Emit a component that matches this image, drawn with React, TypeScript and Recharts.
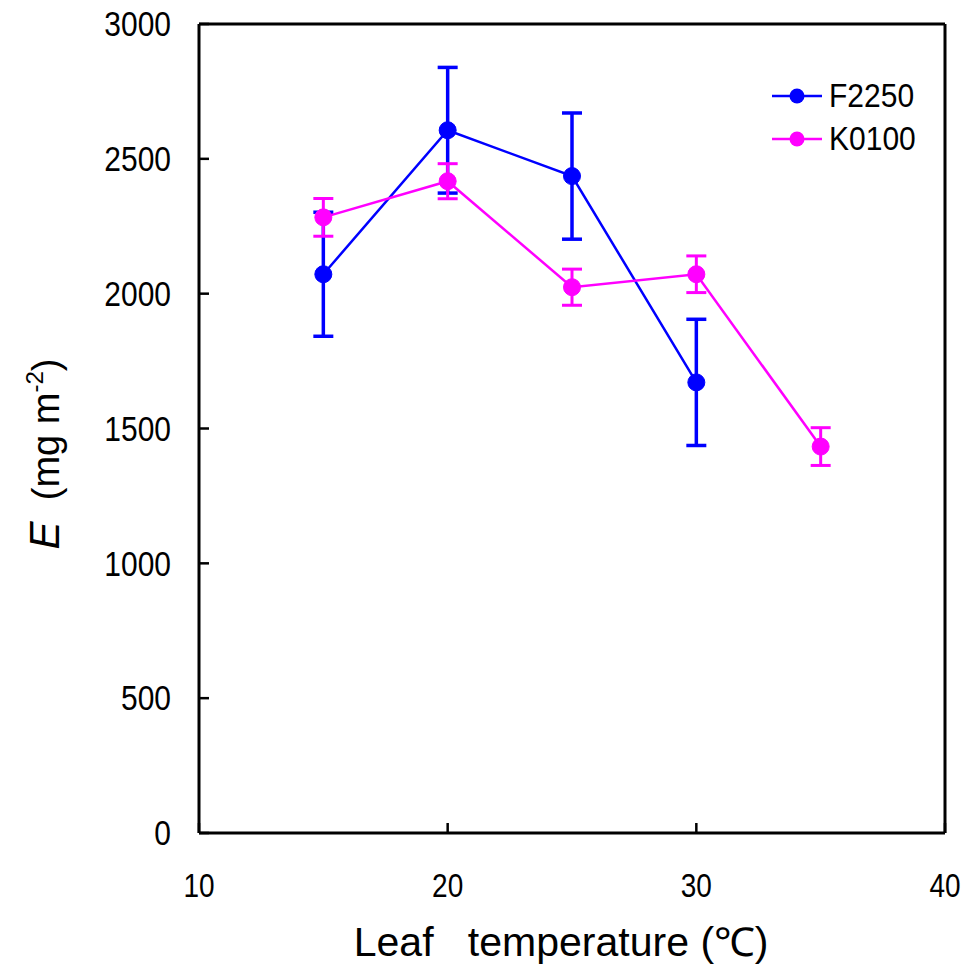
import React from "react";
import {
  LineChart,
  Line,
  XAxis,
  YAxis,
  ErrorBar,
  Label,
  ReferenceLine,
} from "recharts";

const temps = [15, 20, 25, 30, 35];
const f2250Values = [2072, 2606, 2436, 1671];
const f2250Errors = [230, 233, 234, 234];
const k0100Values = [2283, 2417, 2024, 2072, 1433];
const k0100Errors = [70, 65, 67, 68, 70];
const xTicks = [10, 20, 30, 40];
const yTicks = [0, 500, 1000, 1500, 2000, 2500, 3000];

const BLUE = "#0000ff";
const PINK = "#ff00ff";
const FONT = "'Liberation Sans', Arial, sans-serif";

const f2250Data = f2250Values.map((v, i) => ({ t: temps[i], v, err: f2250Errors[i] }));
const k0100Data = k0100Values.map((v, i) => ({ t: temps[i], v, err: k0100Errors[i] }));

const legendItems = [
  { name: "F2250", color: BLUE },
  { name: "K0100", color: PINK },
];

function LegendBox() {
  return (
    <div style={{ position: "absolute", left: 772, top: 74 }}>
      {legendItems.map((it) => (
        <div key={it.name} style={{ display: "flex", alignItems: "center", height: 43 }}>
          <svg width={52} height={20}>
            <line x1={0} y1={10} x2={50} y2={10} stroke={it.color} strokeWidth={2.5} />
            <circle cx={25} cy={10} r={7.5} fill={it.color} />
          </svg>
          <span
            style={{
              fontFamily: FONT,
              fontSize: 30,
              color: "#000",
              marginLeft: 5,
              display: "inline-block",
              transform: "scaleY(1.12)",
            }}
          >
            {it.name}
          </span>
        </div>
      ))}
    </div>
  );
}

// tick text, stretched a little vertically like the original figure
function XTick(props: any) {
  const { x, y, payload } = props;
  return (
    <text
      transform={`translate(${x},${y}) scale(1,1.2)`}
      textAnchor="middle"
      dy="0.71em"
      fontFamily={FONT}
      fontSize={28}
      fill="#000"
    >
      {payload.value}
    </text>
  );
}

function YTick(props: any) {
  const { x, y, payload } = props;
  return (
    <text
      transform={`translate(${x},${y}) scale(1,1.15)`}
      textAnchor="end"
      dy="0.355em"
      fontFamily={FONT}
      fontSize={30}
      fill="#000"
    >
      {payload.value}
    </text>
  );
}

export default function App() {
  return (
    <div style={{ position: "absolute", left: 0, top: 0, background: "#fff" }}>
      <LineChart
        width={965}
        height={967}
        margin={{ top: 24, right: 20, bottom: 0, left: 99 }}
      >
        <XAxis
          type="number"
          dataKey="t"
          domain={[10, 40]}
          ticks={xTicks}
          allowDataOverflow
          height={134}
          tickSize={-10}
          tickMargin={50}
          axisLine={{ stroke: "#000", strokeWidth: 3 }}
          tickLine={{ stroke: "#000", strokeWidth: 2.5 }}
          tick={<XTick />}
        >
          <Label
            content={() => (
              <text
                x={0}
                y={0}
                transform="translate(561,956) scale(1.08,1.05)"
                textAnchor="middle"
                fontFamily={FONT}
                fontSize={38}
                fill="#000"
              >
                {"Leaf\u00a0\u00a0\u00a0temperature (\u2103)"}
              </text>
            )}
          />
        </XAxis>
        <YAxis
          type="number"
          domain={[0, 3000]}
          ticks={yTicks}
          width={100}
          tickSize={-10}
          tickMargin={38}
          axisLine={{ stroke: "#000", strokeWidth: 3 }}
          tickLine={{ stroke: "#000", strokeWidth: 2.5 }}
          tick={<YTick />}
        >
          <Label
            content={() => (
              <text
                x={0}
                y={0}
                transform="translate(59,454) rotate(-90)"
                textAnchor="middle"
                fontFamily={FONT}
                fontSize={38}
                fill="#000"
              >
                <tspan fontStyle="italic" fontSize={42}>E</tspan>
                <tspan>{"\u00a0\u00a0(mg m"}</tspan>
                <tspan fontSize={24} dy={-16}>-2</tspan>
                <tspan dy={16}>)</tspan>
              </text>
            )}
          />
        </YAxis>
        <ReferenceLine y={3000} stroke="#000" strokeWidth={3} />
        <ReferenceLine x={40} stroke="#000" strokeWidth={3} />
        <Line
          data={f2250Data}
          dataKey="v"
          name="F2250"
          stroke={BLUE}
          strokeWidth={2.5}
          dot={{ r: 8.5, fill: BLUE, stroke: BLUE, strokeWidth: 1 }}
          activeDot={false}
          isAnimationActive={false}
        >
          <ErrorBar dataKey="err" width={10} stroke={BLUE} strokeWidth={3.5} />
        </Line>
        <Line
          data={k0100Data}
          dataKey="v"
          name="K0100"
          stroke={PINK}
          strokeWidth={2.5}
          dot={{ r: 8.5, fill: PINK, stroke: PINK, strokeWidth: 1 }}
          activeDot={false}
          isAnimationActive={false}
        >
          <ErrorBar dataKey="err" width={10} stroke={PINK} strokeWidth={3} />
        </Line>
      </LineChart>
      <LegendBox />
    </div>
  );
}
